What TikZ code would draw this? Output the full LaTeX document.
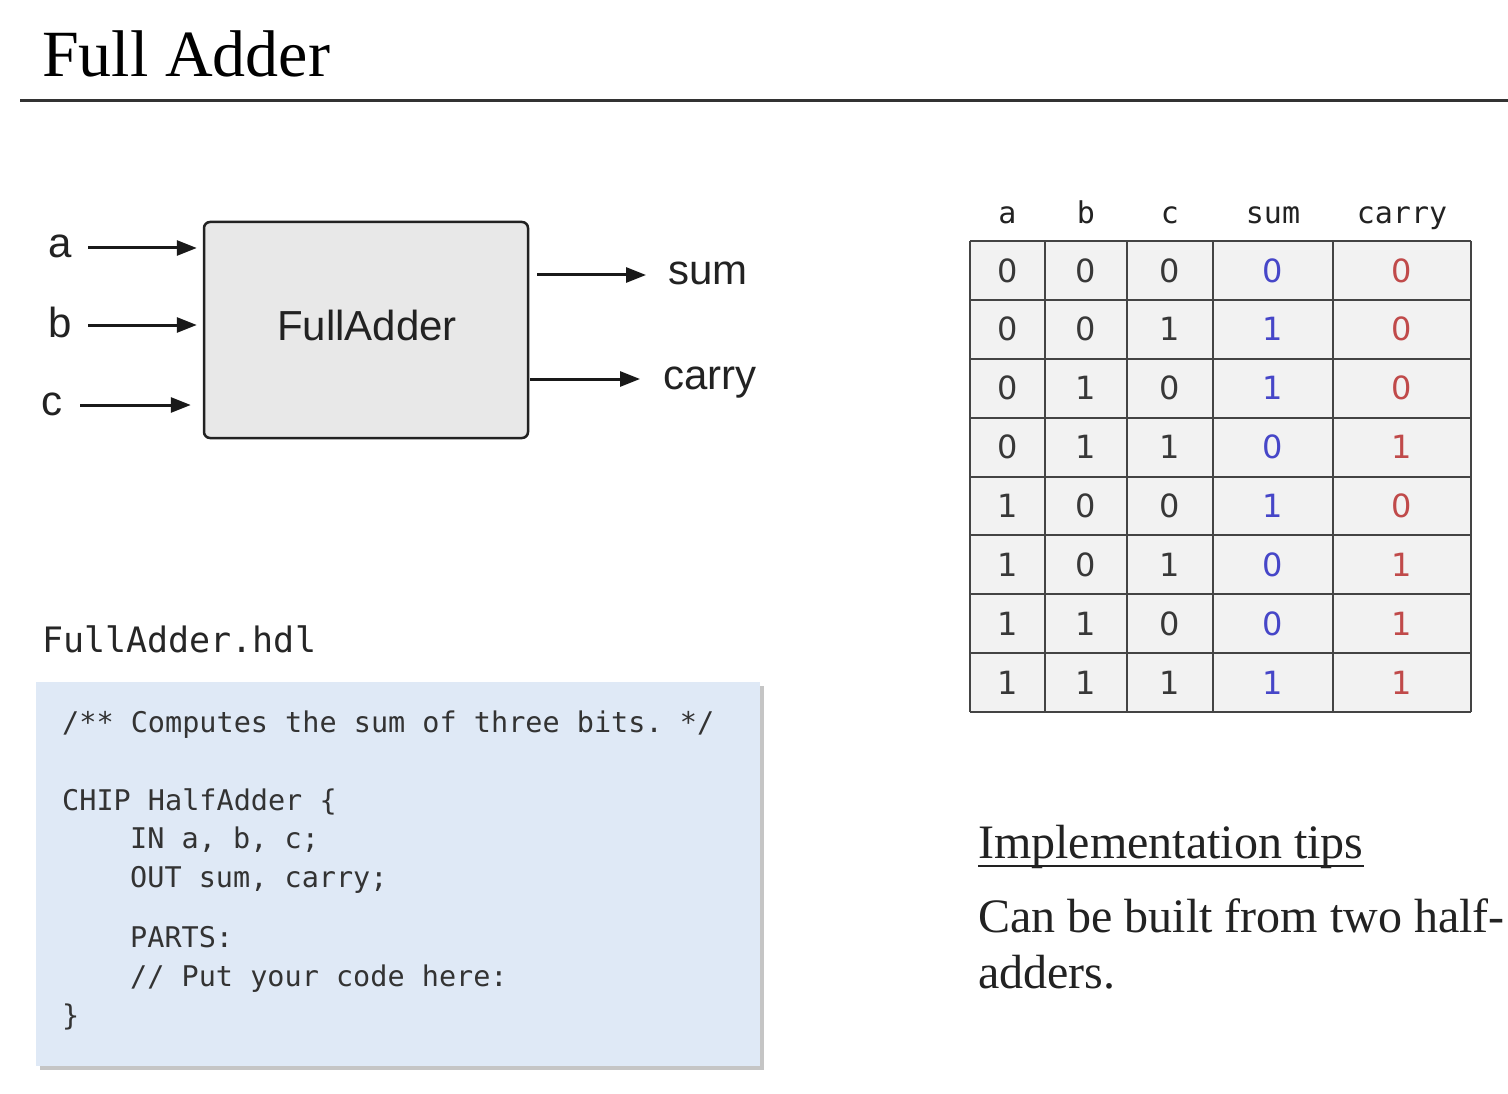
\documentclass[tikz,border=0pt]{standalone}
\usepackage{fontspec}
\setmainfont{Liberation Serif}
\setsansfont{Liberation Sans}
\setmonofont{DejaVu Sans Mono}
\newfontfamily\digitfont{DejaVu Sans}
\usetikzlibrary{arrows.meta,shadows}
\definecolor{boxgray}{HTML}{E8E8E8}
\definecolor{cellgray}{HTML}{F2F2F2}
\definecolor{codeblue}{HTML}{DFE9F6}
\definecolor{ink}{HTML}{222222}
\definecolor{gridc}{HTML}{444444}
\definecolor{sumblue}{HTML}{4646C8}
\definecolor{carryred}{HTML}{C04A4A}
\frenchspacing
\begin{document}
\begin{tikzpicture}[x=1pt,y=-1pt,
  txt/.style={inner sep=0pt, anchor=base west, text=ink},
  titletxt/.style={txt, font=\fontsize{66}{70}\selectfont, text=black},
  sanslbl/.style={txt, font=\sffamily\fontsize{42}{46}\selectfont},
  arr/.style={line width=3pt, draw=black!90, -{Triangle[length=20pt,width=15pt]}},
  chip/.style={draw=ink, line width=2.5pt, fill=boxgray, rounded corners=6pt,
    minimum width=324pt, minimum height=216pt, inner sep=0pt},
  hdr/.style={inner sep=0pt, anchor=base, text=ink, font=\ttfamily\fontsize{30}{32}\selectfont},
  cell/.style={inner sep=0pt, anchor=center, text=ink!90, font=\digitfont\fontsize{32}{34}\selectfont},
  codebox/.style={fill=codeblue, inner sep=0pt, minimum width=724pt, minimum height=384pt,
    drop shadow={shadow xshift=4pt, shadow yshift=-4pt, fill=black!45, opacity=.5}},
  codetxt/.style={txt, text=black!80, font=\ttfamily\fontsize{28.5}{30}\selectfont},
  serif/.style={txt, font=\fontsize{48}{52}\selectfont}
]
\useasboundingbox[fill=white] (0,0) rectangle (1508,1094);

% title and rule
\node[titletxt] (title) at (42,77) {Full Adder};
\coordinate (r0) at (20,101);
\coordinate (r1) at (1508,101);
\draw[line width=3pt, draw=black!80] (r0) -- (r1);

% chip diagram
\node[chip] (fa) at (366,330) {};
\node[inner sep=0pt, text=ink, font=\sffamily\fontsize{42}{46}\selectfont] (fatxt) at (367,325) {FullAdder};
\node[sanslbl] (la) at (48,258) {a};
\node[sanslbl] (lb) at (48,337) {b};
\node[sanslbl] (lc) at (41,415) {c};
\node[sanslbl] (lsum) at (668,284) {sum};
\node[sanslbl] (lcarry) at (663,389) {carry};
\coordinate (a0) at (88,248);
\coordinate (b0) at (88,325);
\coordinate (c0) at (80,405);
\coordinate (s0) at (537,275);
\coordinate (k0) at (530,379);
\draw[arr, shorten >=6pt] (a0) -- (a0 -| fa.west);
\draw[arr, shorten >=6pt] (b0) -- (b0 -| fa.west);
\draw[arr, shorten >=12pt] (c0) -- (c0 -| fa.west);
\draw[arr, shorten >=22pt] (s0) -- (s0 -| lsum.west);
\draw[arr, shorten >=23pt] (k0) -- (k0 -| lcarry.west);

% truth table
\fill[cellgray] (970,241) rectangle (1471,712);
\foreach \xx in {970,1045,1127,1213,1333,1471}
  \draw[gridc, line width=2pt] (\xx,241) -- (\xx,712);
\foreach \i in {0,...,8}
  \draw[gridc, line width=2pt] (970,241+58.875*\i) -- (1471,241+58.875*\i);
\node[hdr] (ha) at (1007.5,224) {a};
\node[hdr] (hb) at (1086,224) {b};
\node[hdr] (hc) at (1170,224) {c};
\node[hdr] (hs) at (1273,224) {sum};
\node[hdr] (hk) at (1402,224) {carry};
\foreach \r/\va/\vb/\vc/\vs/\vk in {0/0/0/0/0/0,1/0/0/1/1/0,2/0/1/0/1/0,3/0/1/1/0/1,
                                  4/1/0/0/1/0,5/1/0/1/0/1,6/1/1/0/0/1,7/1/1/1/1/1}{
  \pgfmathsetmacro\yy{241+58.875*(\r+0.5)}
  \node[cell] (ca\r) at (1007.5,\yy) {\va};
  \node[cell] (cb\r) at (1086,\yy) {\vb};
  \node[cell] (cc\r) at (1170,\yy) {\vc};
  \node[cell, text=sumblue] (cs\r) at (1273,\yy) {\vs};
  \node[cell, text=carryred] (ck\r) at (1402,\yy) {\vk};
}

% HDL code
\node[txt, font=\ttfamily\fontsize{35}{38}\selectfont, text=black!85] (fname) at (42,652) {FullAdder.hdl};
\node[codebox] (code) at (398,874) {};
\node[codetxt] (l1) at (62,732) {/** Computes the sum of three bits. */};
\node[codetxt] (l2) at (62,810) {CHIP HalfAdder \{};
\node[codetxt] (l3) at (130,848) {IN a, b, c;};
\node[codetxt] (l4) at (130,887) {OUT sum, carry;};
\node[codetxt] (l5) at (130,947) {PARTS:};
\node[codetxt] (l6) at (130,986) {// Put your code here:};
\node[codetxt] (l7) at (62,1025) {\}};

% implementation tips
\node[serif] (tips) at (978,858) {Implementation tips};
\draw[line width=2pt, draw=ink] ([yshift=-8pt]tips.base west) -- ([yshift=-8pt]tips.base east);
\node[serif] (tip1) at (978,932) {Can be built from two half-};
\node[serif] (tip2) at (978,988) {adders.};
\end{tikzpicture}
\end{document}
